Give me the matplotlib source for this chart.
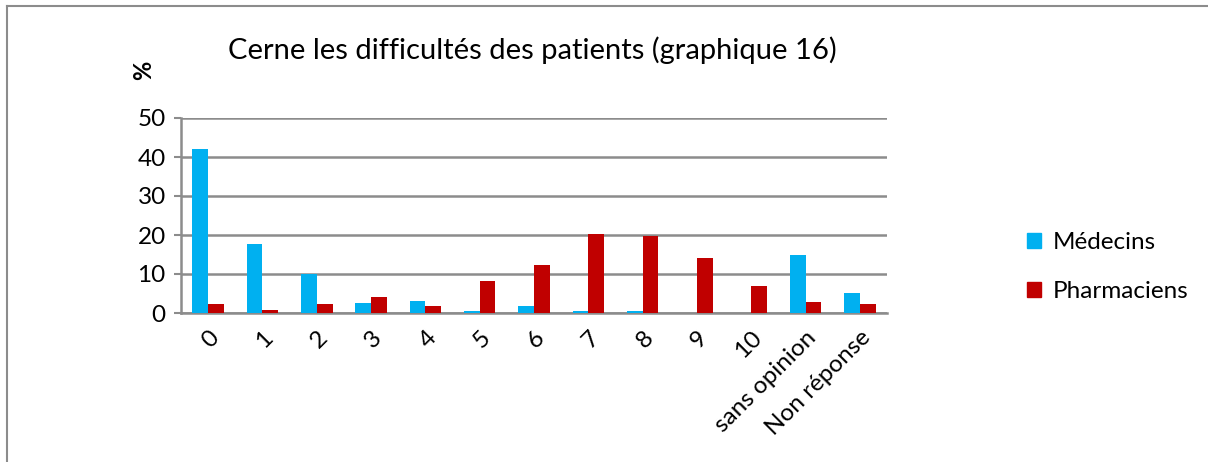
import matplotlib.pyplot as plt
import numpy as np
from matplotlib.lines import Line2D
from matplotlib.patches import Patch

plt.rcParams['font.family'] = ['Lato', 'DejaVu Sans']

categories = ["0", "1", "2", "3", "4", "5", "6", "7", "8", "9", "10",
              "sans opinion", "Non réponse"]
medecins = [42.1, 17.6, 10.0, 2.5, 3.2, 0.4, 1.7, 0.4, 0.4, 0, 0, 15.0, 5.1]
pharmaciens = [2.3, 0.8, 2.3, 4.2, 1.8, 8.3, 12.2, 20.2, 19.7, 14.2, 6.8, 2.7, 2.3]
yticks = [0, 10, 20, 30, 40, 50]

blue = "#00B0F0"
red = "#C00000"
grid_col = "#8C8C8C"

fig = plt.figure(figsize=(12.08, 4.62), dpi=100)
ax = fig.add_axes([181 / 1208, 1 - 313 / 462, 706 / 1208, 195 / 462])

x = np.arange(len(categories))
w = 0.29
ax.bar(x - w / 2, medecins, w, color=blue, label="Médecins", zorder=3)
ax.bar(x + w / 2, pharmaciens, w, color=red, label="Pharmaciens", zorder=3)

ax.set_xlim(-0.5, len(categories) - 0.5)
ax.set_ylim(0, 50)
ax.set_yticks(yticks)
ax.yaxis.grid(True, color=grid_col, linewidth=1.8, zorder=0)
ax.set_axisbelow(True)
for s in ["top", "right"]:
    ax.spines[s].set_visible(False)
for s in ["left", "bottom"]:
    ax.spines[s].set_color(grid_col)
    ax.spines[s].set_linewidth(1.8)
ax.tick_params(axis="y", length=5, width=1.5, color=grid_col, labelsize=17.5, pad=6)
ax.tick_params(axis="x", length=0, labelsize=17.5, pad=10)
ax.set_xticks(x)
ax.set_xticklabels(categories, rotation=45, ha="right", rotation_mode="anchor")

fig.text(532 / 1208, 1 - 50 / 462, "Cerne les difficultés des patients (graphique 16)",
         ha="center", va="center", fontsize=21)
fig.text(144 / 1208, 1 - 70 / 462, "%", rotation=90, ha="center", va="center",
         fontsize=17, fontweight="bold")

handles = [Patch(color=blue), Patch(color=red)]
fig.legend(handles, ["Médecins", "Pharmaciens"], loc="center left",
           bbox_to_anchor=(1005 / 1208, 1 - 267 / 462), frameon=False,
           fontsize=17.5, handlelength=0.6, handleheight=0.6, handletextpad=0.45,
           labelspacing=1.15)

# chart border (only top and left visible in the crop)
fig.add_artist(Line2D([7 / 1208, 7 / 1208], [0, 1 - 6 / 462], color=grid_col,
                      linewidth=1.5, transform=fig.transFigure))
fig.add_artist(Line2D([7 / 1208, 1], [1 - 6 / 462, 1 - 6 / 462], color=grid_col,
                      linewidth=1.5, transform=fig.transFigure))

fig.savefig("out.png", dpi=100)
